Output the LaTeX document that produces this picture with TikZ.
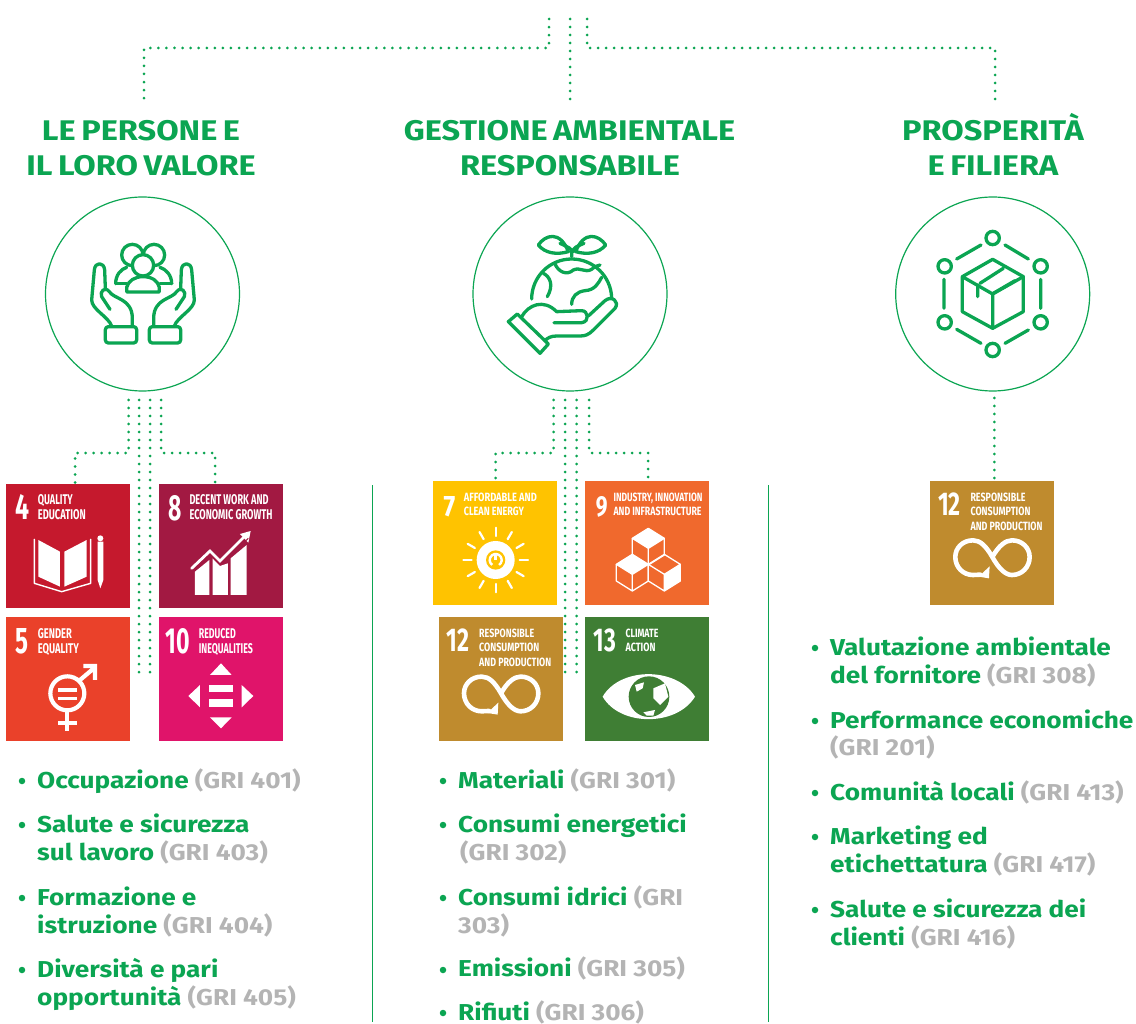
\documentclass[tikz,border=0pt]{standalone}
\usepackage{fontspec}
\usepackage{graphicx}
\setmainfont{Fira Sans}
\newfontfamily\wide[FakeStretch=1.14]{Fira Sans}
\newfontfamily\widet[FakeStretch=1.145,WordSpace=0.72]{Fira Sans}
\usetikzlibrary{calc}
\definecolor{gr}{HTML}{0BA552}
\definecolor{grl}{HTML}{B4B4B4}
\definecolor{c4}{HTML}{C5192D}
\definecolor{c8}{HTML}{A21942}
\definecolor{c5}{HTML}{EA412A}
\definecolor{c10}{HTML}{E0146A}
\definecolor{c7}{HTML}{FFC300}
\definecolor{c9}{HTML}{F0692D}
\definecolor{c12}{HTML}{BF8B2E}
\definecolor{c13}{HTML}{3F7E34}
\tikzset{
 dotline/.style={gr,line width=3pt,line cap=round,dash pattern=on 0pt off 8pt},
 ring/.style={circle,draw=gr,line width=1.2pt,minimum size=194pt,inner sep=0pt,fill=white},
 sq/.style={rectangle,anchor=north west,minimum size=124pt,inner sep=0pt,outer sep=0pt,draw=none},
 title/.style={text=gr,font=\widet\fontsize{28.4}{28}\selectfont\bfseries,anchor=base,inner sep=0pt},
 li/.style={anchor=base west,inner sep=0pt,text=gr,font=\wide\fontsize{23}{23}\selectfont\bfseries},
 blt/.style={circle,fill=gr,minimum size=6.5pt,inner sep=0pt},
 ic/.style={gr,line width=3.3pt,line cap=round,line join=round},
 sdgt/.style={anchor=base west,inner sep=0pt,text=white,font=\bfseries},
 wl/.style={white,line cap=round,line join=round},
 sep/.style={gr,line width=0.8pt}
}
\newcommand\sdgl[5]{\node[sdgt] (#1) at (#2) {\resizebox{#3pt}{#4pt}{#5}};}
\newcommand\gri[1]{\textcolor{grl}{#1}}
\newcommand\li[4]{\node[li] (#1) at (#2,#3) {#4};}
\newcommand\blt[3]{\node[blt] (#1) at (#2,#3) {};}
\newcommand\handshape{%
 \draw[ic] (335,408) .. controls (325,380) and (275,358) .. (275,330) -- (283,240) .. controls (285,215) and (312,215) .. (314,240) -- (316,295);
 \draw[ic] (330,358) -- (305,320) .. controls (298,305) and (315,288) .. (328,305) .. controls (342,328) and (397,325) .. (397,385) -- (397,408);
 \draw[ic,rounded corners=3pt] (316,410) rectangle (410,459);
}
\newcommand\twelve[1]{%
 \sdgl{#1n}{23,103}{22.7}{22.7}{12}
 \sdgl{#1a}{120,61}{55}{8.5}{RESPONSIBLE}
 \sdgl{#1b}{120,103}{60}{8.5}{CONSUMPTION}
 \sdgl{#1c}{120,148}{72}{8.5}{AND PRODUCTION}
 \draw[wl,line width=4.6pt] (186,228) .. controls (205,195) and (225,178) .. (245,178) .. controls (275,178) and (298,200) .. (298,228) .. controls (298,258) and (275,282) .. (245,282) .. controls (225,282) and (205,262) .. (186,228) .. controls (167,195) and (150,178) .. (128,178) .. controls (98,178) and (75,200) .. (75,228) .. controls (75,258) and (98,282) .. (128,282) -- (150,281);
 \fill[white] (178,256) -- (176,292) -- (145,287) -- cycle;
}
\newcommand\cube[3]{% cx cy fillstyle
 \draw[wl,line width=1.3pt,#3] (#1,#2-30) -- (#1+48,#2) -- (#1,#2+30) -- (#1-48,#2) -- cycle;
 \draw[wl,line width=1.3pt] (#1-48,#2) -- (#1-48,#2+50) -- (#1,#2+80) -- (#1+48,#2+50) -- (#1+48,#2) (#1,#2+30) -- (#1,#2+80);
}
\begin{document}
\begin{tikzpicture}[x=1pt,y=-1pt]
\useasboundingbox (0,0) rectangle (1136,1024);
% rings
\node[ring] (r1) at (142.5,294) {};
\node[ring] (r2) at (570,294) {};
\node[ring] (r3) at (992.7,294) {};
% connector ends
\coordinate (t0) at (570,19); \coordinate (t0e) at (570,99.5);
\coordinate (tl) at (549,19); \coordinate (tlc) at (549,48); \coordinate (tle) at (144,99.5);
\coordinate (tr) at (587,19); \coordinate (trc) at (587,48); \coordinate (tre) at (995,99.5);
\draw[dotline] (t0) -- (t0e);
\draw[dotline,dash pattern=on 0pt off 8.07pt] (tl) -- (tlc) -- (tle |- tlc) -- (tle);
\draw[dotline] (tr) -- (trc) -- (tre |- trc) -- (tre);
% left group
\coordinate (a1) at (128.5,400); \coordinate (a2) at (139,400); \coordinate (a3) at (150,400); \coordinate (a4) at (161,400);
\coordinate (a1e) at (75,484); \coordinate (a4e) at (215,484);
\coordinate (a2e) at (139,677); \coordinate (a3e) at (150,677);
\draw[dotline] (a1) |- (a1e |- 0,453) -- (a1e);
\draw[dotline] (a4) |- (a4e |- 0,453) -- (a4e);
\draw[dotline] (a2) -- (a2e);
\draw[dotline] (a3) -- (a3e);
% middle group
\coordinate (b1) at (553.7,400); \coordinate (b2) at (565,400); \coordinate (b3) at (576.5,400); \coordinate (b4) at (589,400);
\coordinate (b1e) at (495.7,481); \coordinate (b4e) at (648,481);
\coordinate (b2e) at (565,677); \coordinate (b3e) at (576.5,677);
\draw[dotline] (b1) |- (b1e |- 0,453) -- (b1e);
\draw[dotline] (b4) |- (b4e |- 0,453) -- (b4e);
\draw[dotline] (b2) -- (b2e);
\draw[dotline] (b3) -- (b3e);
% right
\coordinate (c1) at (994.3,398); \coordinate (c1e) at (994.3,481);
\draw[dotline] (c1) -- (c1e);
% separators
\coordinate (s1) at (372,485); \coordinate (s1e) at (372,1022);
\coordinate (s2) at (768,485); \coordinate (s2e) at (768,1022);
\draw[sep] (s1) -- (s1e);
\draw[sep] (s2) -- (s2e);
% titles
\node[title] (h1a) at (141,141) {LE PERSONE E};
\node[title] (h1b) at (141,176) {IL LORO VALORE};
\node[title] (h2a) at (569.5,141) {GESTIONE AMBIENTALE};
\node[title] (h2b) at (570,176) {RESPONSABILE};
\node[title] (h3a) at (993,141) {PROSPERITÀ};
\node[title] (h3b) at (993,176) {E FILIERA};
% icon people and hands
\begin{scope}[shift={(0,190)},scale=1/3]
 \handshape
 \begin{scope}[shift={(858,0)},xscale=-1]\handshape\end{scope}
 \draw[ic] (397,195) circle (32);
 \draw[ic] (462,195) circle (32);
 \draw[ic] (347,281) .. controls (347,255) and (362,238) .. (380,232);
 \draw[ic] (515,281) .. controls (515,255) and (498,238) .. (480,232);
 \draw[ic] (347,281) -- (380,281) (515,281) -- (480,281);
 \draw[ic,fill=white] (380,306) -- (380,292) .. controls (385,272) and (405,260) .. (429,260) .. controls (455,260) and (474,272) .. (478,292) -- (478,306) -- cycle;
 \draw[ic,fill=white] (429,226) circle (32);
\end{scope}
% globe icon
\begin{scope}[shift={(460,190)},scale=1/3]
 \draw[ic] (215,327) arc (180:358:120);
 \draw[ic] (285,222) .. controls (295,245) and (320,258) .. (340,240) .. controls (360,230) and (375,250) .. (395,238) .. controls (405,228) and (412,228) .. (420,225);
 \draw[ic] (250,250) .. controls (270,260) and (282,285) .. (262,320);
 \draw[ic] (335,343) .. controls (335,320) and (350,305) .. (375,302) .. controls (405,300) and (415,280) .. (425,262);
 \draw[ic] (335,200) -- (335,180) (335,185) .. controls (335,175) and (325,172) .. (300,160) (340,185) .. controls (340,172) and (350,170) .. (372,160);
 \draw[ic] (235,165) .. controls (255,135) and (300,120) .. (325,185) .. controls (290,195) and (255,190) .. (235,165) -- cycle;
 \draw[ic] (437,165) .. controls (417,135) and (372,120) .. (347,185) .. controls (382,195) and (417,190) .. (437,165) -- cycle;
 \draw[ic] (145,395) -- (172,372) -- (265,462) -- (240,490) -- cycle;
 \draw[ic] (185,380) .. controls (205,345) and (250,325) .. (290,365) -- (365,362) .. controls (385,362) and (390,395) .. (365,398) -- (282,398);
 \draw[ic] (385,378) -- (435,332) .. controls (455,315) and (480,335) .. (465,355) -- (400,420) .. controls (385,435) and (375,438) .. (360,438) -- (290,438) .. controls (270,438) and (262,445) .. (255,452);
\end{scope}
% box icon
\begin{scope}[shift={(880,190)},scale=1/3]
 \foreach \p in {(338,144),(482,229),(482,397),(338,480),(194,397),(194,229)} \draw[ic] \p circle (20);
 \draw[ic] (375,165) -- (445,207) (482,268) -- (482,355) (445,420) -- (375,460) (303,460) -- (230,418) (192,355) -- (192,268) (230,207) -- (303,165);
 \draw[ic] (338,208) -- (430,260) -- (430,365) -- (338,415) -- (247,365) -- (247,260) -- cycle;
 \draw[ic] (247,260) -- (338,312) -- (430,260) (338,312) -- (338,415);
 \draw[ic] (300,280) -- (370,235) (293,285) -- (293,320) (340,310) -- (405,272);
\end{scope}
% squares
\node[sq,fill=c4] (s4) at (6,484) {};
\node[sq,fill=c8] (s8) at (159,484) {};
\node[sq,fill=c5] (s5) at (6,617) {};
\node[sq,fill=c10] (s10) at (159,617) {};
\node[sq,fill=c7] (s7) at (433.3,481) {};
\node[sq,fill=c9] (s9) at (585.3,481) {};
\node[sq,fill=c12] (s12) at (439,617.3) {};
\node[sq,fill=c13] (s13) at (585.3,617.3) {};
\node[sq,fill=c12] (s12b) at (930.3,481) {};
% left squares content
\begin{scope}[shift={(0,480)},scale=1/3]
 \sdgl{n4}{46,120}{14}{25}{4}
 \sdgl{t4a}{113,75}{35}{10}{QUALITY}
 \sdgl{t4b}{113,120}{48}{10}{EDUCATION}
 \fill[white] (115,180) -- (180,215) -- (180,320) -- (115,290) -- cycle;
 \fill[white] (193,215) -- (260,180) -- (260,290) -- (193,320) -- cycle;
 \draw[wl,line width=1.4pt] (103,178) -- (103,310) -- (185,335) -- (272,310) -- (272,178);
 \fill[white] (293,185) -- (310,185) -- (310,300) -- (301,325) -- (293,300) -- cycle;
 \fill[white] (301,175) circle (9);
 \sdgl{n8}{505,120}{13.3}{25}{8}
 \sdgl{t8a}{568,75}{79}{10}{DECENT WORK AND}
 \sdgl{t8b}{568,120}{83}{10}{ECONOMIC GROWTH}
 \fill[white] (585,275) -- (628,240) -- (628,345) -- (585,345) -- cycle;
 \fill[white] (638,235) -- (660,258) -- (684,250) -- (684,345) -- (638,345) -- cycle;
 \fill[white] (692,235) -- (740,195) -- (740,345) -- (692,345) -- cycle;
 \draw[white,line width=2.8pt,line cap=round] (575,265) -- (630,213) -- (660,243) -- (735,168);
 \fill[white] (752,153) -- (720,162) -- (745,188) -- cycle;
 \draw[c8,line width=1pt] (575,275) -- (630,225) -- (660,255) -- (745,175);
 \sdgl{n5}{46,520}{13}{25}{5}
 \sdgl{t5a}{113,475}{34}{10}{GENDER}
 \sdgl{t5b}{113,520}{41}{10}{EQUALITY}
 \draw[white,line width=4.2pt] (202,640) circle (51);
 \draw[white,line width=3.2pt] (175,630) -- (232,630) (175,655) -- (232,655);
 \draw[white,line width=4.2pt] (240,600) -- (285,562) (250,558) -- (285,558) -- (285,600);
 \draw[white,line width=4.2pt] (202,695) -- (202,752) (175,728) -- (232,728);
 \sdgl{n10}{497,520}{24.3}{25}{10}
 \sdgl{t10a}{596,475}{37}{10}{REDUCED}
 \sdgl{t10b}{596,520}{54}{10}{INEQUALITIES}
 \fill[white] (663,550) -- (630,585) -- (695,585) -- cycle;
 \fill[white] (565,648) -- (600,615) -- (600,682) -- cycle;
 \fill[white] (760,648) -- (725,615) -- (725,682) -- cycle;
 \fill[white] (663,745) -- (630,712) -- (695,712) -- cycle;
 \fill[white] (628,615) rectangle (698,635);
 \fill[white] (628,658) rectangle (698,680);
\end{scope}
% middle squares content
\begin{scope}[shift={(420,475)},scale=1/3]
 \sdgl{n7}{70,125}{11.7}{20}{7}
 \sdgl{t7a}{131,80}{73}{8.5}{AFFORDABLE AND}
 \sdgl{t7b}{131,122}{60}{8.5}{CLEAN ENERGY}
 \foreach \a in {0,30,...,330} \draw[white,line width=2.2pt,line cap=round] ($(227,255)+(\a:72)$) -- ($(227,255)+(\a:97)$);
 \fill[white] (227,255) circle (57);
 \fill[c7] (227,255) circle (29);
 \draw[white,line width=2.4pt] (227,255) ++(55:18) arc (55:-235:18);
 \draw[white,line width=2.4pt] (227,234) -- (227,255);
 \sdgl{n9}{527,125}{11.7}{20}{9}
 \sdgl{t9a}{580,80}{89}{8.5}{INDUSTRY, INNOVATION}
 \sdgl{t9b}{580,122}{88}{8.5}{AND INFRASTRUCTURE}
 \cube{685}{190}{fill=white}
 \cube{733}{268}{}
 \fill[white] (733,298) -- (781,268) -- (781,318) -- (733,348) -- cycle;
 \cube{637}{268}{fill=white}
 \sdgl{n13}{520,530}{22.3}{22.7}{13}
 \sdgl{t13a}{616,488}{33}{8.5}{CLIMATE}
 \sdgl{t13b}{616,530}{30}{8.5}{ACTION}
 \fill[white] (548,665) .. controls (600,575) and (770,575) .. (825,665) .. controls (770,755) and (600,755) .. (548,665) -- cycle;
 \fill[c13] (687,665) circle (61);
 \fill[white] (645,630) -- (672,622) -- (668,640) -- (650,650) -- cycle;
 \fill[white] (700,640) -- (735,625) -- (745,665) -- (720,690) -- (700,670) -- cycle;
 \fill[white] (670,712) -- (705,705) -- (700,722) -- (680,722) -- cycle;
\end{scope}
\begin{scope}[shift={(439,617.3)},scale=1/3]\twelve{x}\end{scope}
\begin{scope}[shift={(930.3,481)},scale=1/3]\twelve{y}\end{scope}
% lists
\blt{p1}{22}{781}\blt{p2}{22}{825}\blt{p3}{22}{898}\blt{p4}{22}{970}
\li{l1}{37}{788}{Occupazione \gri{(GRI 401)}}
\li{l2}{37}{832}{Salute e sicurezza}
\li{l3}{37}{860}{sul lavoro \gri{(GRI 403)}}
\li{l4}{37}{905}{Formazione e}
\li{l5}{37}{933}{istruzione \gri{(GRI 404)}}
\li{l6}{37}{977}{Diversità e pari}
\li{l7}{37}{1005}{opportunità \gri{(GRI 405)}}
\blt{q1}{443}{781}\blt{q2}{443}{825}\blt{q3}{443}{898}\blt{q4}{443}{970}\blt{q5}{443}{1013}
\li{m1}{458}{788}{Materiali \gri{(GRI 301)}}
\li{m2}{458}{832}{Consumi energetici}
\li{m3}{460}{860}{\gri{(GRI 302)}}
\li{m4}{458}{905}{Consumi idrici \gri{(GRI}}
\li{m5}{458}{933}{\gri{303)}}
\li{m6}{458}{976}{Emissioni \gri{(GRI 305)}}
\li{m7}{458}{1020}{Rifiuti \gri{(GRI 306)}}
\blt{u1}{815}{648}\blt{u2}{815}{721}\blt{u3}{815}{793}\blt{u4}{815}{837}\blt{u5}{815}{910}
\li{k1}{830}{655}{Valutazione ambientale}
\li{k2}{830}{683}{del fornitore \gri{(GRI 308)}}
\li{k3}{830}{728}{Performance economiche}
\li{k4}{830}{755}{\gri{(GRI 201)}}
\li{k5}{830}{800}{Comunità locali \gri{(GRI 413)}}
\li{k6}{830}{844}{Marketing ed}
\li{k7}{830}{872}{etichettatura \gri{(GRI 417)}}
\li{k8}{830}{917}{Salute e sicurezza dei}
\li{k9}{830}{945}{clienti \gri{(GRI 416)}}
\end{tikzpicture}
\end{document}
